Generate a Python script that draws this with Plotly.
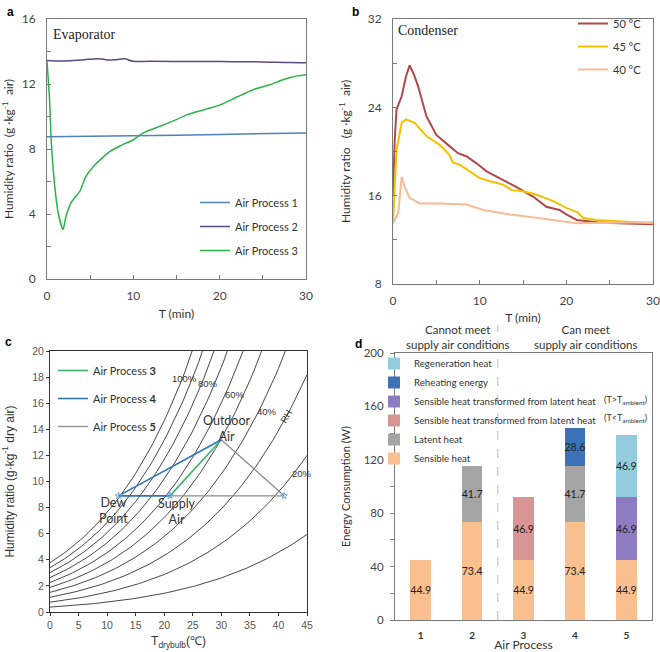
import numpy as np
import plotly.graph_objects as go

# ---------------- Panel a data (Evaporator) ----------------
a_t1 = [0, 5, 10, 15, 20, 25, 30]
a_ap1 = [8.75, 8.77, 8.8, 8.85, 8.9, 8.93, 8.98]
a_t2 = [0, 2, 4, 6, 7, 8, 9, 10, 12, 15, 20, 25, 28, 30]
a_ap2 = [13.45, 13.42, 13.48, 13.56, 13.48, 13.5, 13.55, 13.4, 13.4, 13.38, 13.38, 13.36, 13.32, 13.31]
a_t3 = [0, 0.3, 0.5, 0.9, 1.3, 1.86, 2.2, 2.8, 3.8, 4.5, 5.5, 7.3, 8.5, 10, 11.1, 13.1, 14.5, 16.2, 18.1, 20, 22, 23.9, 25.8, 27, 28.2, 29, 30]
a_ap3 = [13.4, 11.0, 8.4, 5.7, 4.06, 3.04, 3.86, 4.7, 5.4, 6.3, 7.0, 7.85, 8.2, 8.57, 8.98, 9.4, 9.7, 10.1, 10.4, 10.7, 11.2, 11.65, 11.95, 12.2, 12.4, 12.5, 12.57]

# ---------------- Panel b data (Condenser) ----------------
b_t50 = [0, 0.2, 0.4, 1.0, 1.5, 1.92, 2.4, 2.9, 3.85, 5.0, 6.35, 7.5, 8.5, 9.6, 10.8, 12.3, 14.2, 16.2, 17.7, 19.2, 20.0, 21.2, 23.5, 26, 30]
b_h50 = [15.9, 21.0, 23.8, 25.0, 26.8, 27.8, 27.0, 25.9, 23.2, 21.5, 20.6, 19.85, 19.55, 18.95, 18.2, 17.6, 16.8, 15.9, 15.0, 14.7, 14.3, 13.8, 13.6, 13.5, 13.4]
b_t45 = [0, 0.2, 0.4, 1.0, 1.5, 2.5, 3.85, 5.4, 6.5, 6.9, 7.7, 8.85, 10, 11.2, 12.7, 13.7, 15, 16.5, 18.5, 20, 21.3, 21.9, 23.5, 25.4, 30]
b_h45 = [13.5, 16.5, 20.1, 22.6, 22.9, 22.6, 21.4, 20.6, 19.7, 19.0, 18.8, 18.2, 17.6, 17.3, 17.0, 16.5, 16.4, 16.1, 15.5, 14.9, 14.5, 14.0, 13.8, 13.7, 13.5]
b_t40 = [0, 0.6, 1.0, 1.35, 1.9, 3.1, 5.4, 8.5, 10.4, 13.5, 16.5, 19.6, 21.2, 30]
b_h40 = [13.5, 14.4, 17.7, 16.8, 15.8, 15.3, 15.3, 15.2, 14.7, 14.3, 14.0, 13.7, 13.5, 13.6]

# ---------------- Panel c data (psychrometric chart) ----------------
rh_levels = [1.0, 0.9, 0.8, 0.7, 0.6, 0.5, 0.4, 0.3, 0.2, 0.1]
t_grid = np.linspace(0, 45, 91)
p_atm = 101.325
dew_pt = (12, 8.9)
supply_pt = (21, 8.9)
outdoor_pt = (30, 13.2)
reheat_pt = (41, 8.9)

# ---------------- Panel d data (energy) ----------------
d_cats = [1, 2, 3, 4, 5]
d_series = [
    ("Sensible heat", [44.9, 73.4, 44.9, 73.4, 44.9], "#F9BF8F"),
    ("Latent heat", [0, 41.7, 0, 41.7, 0], "#A5A5A5"),
    ("Sensible heat transformed from latent heat", [0, 0, 46.9, 0, 0], "#D99594"),
    ("Sensible heat transformed from latent heat", [0, 0, 0, 0, 46.9], "#8E7CC3"),
    ("Reheating energy", [0, 0, 0, 28.6, 0], "#3D72B8"),
    ("Regeneration heat", [0, 0, 0, 0, 46.9], "#93CDDD"),
]

W, H = 660, 652
def px_x(p): return p / W
def px_y(p): return 1 - p / H

fig = go.Figure()
FONT = "Lato"
GRAY = "#7a7a7a"

# Panel a
fig.add_trace(go.Scatter(x=a_t1, y=a_ap1, mode="lines", name="Air Process 1", line=dict(color="#4F81BD", width=1.5),
                         xaxis="x", yaxis="y", legend="legend", legendgroup="a1"))
fig.add_trace(go.Scatter(x=a_t2, y=a_ap2, mode="lines", name="Air Process 2", line=dict(color="#5B4A7E", width=1.5, shape="spline"),
                         xaxis="x", yaxis="y", legend="legend", legendgroup="a2"))
fig.add_trace(go.Scatter(x=a_t3, y=a_ap3, mode="lines", name="Air Process 3", line=dict(color="#2DB24A", width=1.5, shape="spline", smoothing=0.6),
                         xaxis="x", yaxis="y", legend="legend", legendgroup="a3"))

# Panel b
fig.add_trace(go.Scatter(x=b_t50, y=b_h50, mode="lines", name="50 °C", line=dict(color="#B0494A", width=2),
                         xaxis="x2", yaxis="y2", legend="legend2", legendgroup="b50"))
fig.add_trace(go.Scatter(x=b_t45, y=b_h45, mode="lines", name="45 °C", line=dict(color="#F5C000", width=2),
                         xaxis="x2", yaxis="y2", legend="legend2", legendgroup="b45"))
fig.add_trace(go.Scatter(x=b_t40, y=b_h40, mode="lines", name="40 °C", line=dict(color="#F7BC94", width=2),
                         xaxis="x2", yaxis="y2", legend="legend2", legendgroup="b40"))

# Panel c: RH curves
for rh in rh_levels:
    ps = 0.61094 * np.exp(17.625 * t_grid / (t_grid + 243.04))
    w = 622 * rh * ps / (p_atm - rh * ps)
    fig.add_trace(go.Scatter(x=t_grid, y=w, mode="lines", line=dict(color="#333333", width=0.9),
                             showlegend=False, hoverinfo="skip", xaxis="x3", yaxis="y3"))

fig.add_trace(go.Scatter(x=[supply_pt[0], outdoor_pt[0]], y=[supply_pt[1], outdoor_pt[1]], mode="lines",
                         name="Air Process <b>3</b>", line=dict(color="#3DB36B", width=1.6),
                         xaxis="x3", yaxis="y3", legend="legend3", legendgroup="c3"))
fig.add_trace(go.Scatter(x=[supply_pt[0], dew_pt[0], outdoor_pt[0]], y=[supply_pt[1], dew_pt[1], outdoor_pt[1]], mode="lines",
                         name="Air Process <b>4</b>", line=dict(color="#2E75B6", width=1.6),
                         xaxis="x3", yaxis="y3", legend="legend3", legendgroup="c4"))
fig.add_trace(go.Scatter(x=[outdoor_pt[0], reheat_pt[0], supply_pt[0]], y=[outdoor_pt[1], reheat_pt[1], supply_pt[1]], mode="lines",
                         name="Air Process <b>5</b>", line=dict(color="#8C8C8C", width=1.3),
                         xaxis="x3", yaxis="y3", legend="legend3", legendgroup="c5"))
fig.add_trace(go.Scatter(x=[dew_pt[0], supply_pt[0], reheat_pt[0]], y=[dew_pt[1], supply_pt[1], reheat_pt[1]], mode="markers",
                         marker=dict(symbol="star-open", size=5, color="#6FA8DC"), showlegend=False,
                         xaxis="x3", yaxis="y3"))

# Panel d
for name, vals, col in d_series:
    txt = [f"{v:.1f}" if v > 0 else " " for v in vals]
    fig.add_trace(go.Bar(x=d_cats, y=vals, name=name, marker=dict(color=col, line=dict(width=0)),
                         text=txt, textposition="inside", insidetextanchor="middle", textangle=0,
                         constraintext="none", cliponaxis=False,
                         textfont=dict(size=10.5, color="#222", family=FONT), width=0.4,
                         xaxis="x4", yaxis="y4", legend="legend4"))

def ax(**kw):
    d = dict(showgrid=False, zeroline=False, showline=True, mirror=True, linecolor=GRAY, linewidth=1,
             tickcolor=GRAY, ticklen=4)
    d.update(kw)
    return d

tf_ab = dict(size=12, color="#444", family=FONT)
tt_ab = dict(size=12, color="#333", family=FONT)

fig.update_layout(
    width=W, height=H, margin=dict(l=0, r=0, t=0, b=0, autoexpand=False), plot_bgcolor="white", paper_bgcolor="white",
    barmode="stack", showlegend=True,
    font=dict(family=FONT, color="#333"),
    xaxis=ax(domain=[px_x(47), px_x(306)], range=[0, 30], dtick=10, anchor="y", ticks="inside",
             minor=dict(dtick=5, ticks="inside", ticklen=4, tickcolor=GRAY), tickfont=tf_ab, ticklabelstandoff=6,
             title=dict(text="T (min)", font=tt_ab, standoff=7)),
    yaxis=ax(domain=[px_y(279), px_y(19)], range=[0, 16], dtick=4, anchor="x", ticks="inside",
             minor=dict(dtick=2, ticks="inside", ticklen=4, tickcolor=GRAY), tickfont=tf_ab, ticklabelstandoff=8,
             title=dict(text="Humidity ratio  (g ·kg<sup>-1</sup>  air)", font=tt_ab, standoff=12)),
    xaxis2=ax(domain=[px_x(393), px_x(653)], range=[0, 30], dtick=10, anchor="y2", ticks="inside",
              minor=dict(dtick=5, ticks="inside", ticklen=4, tickcolor=GRAY), tickfont=tf_ab, ticklabelstandoff=6,
              title=dict(text="T (min)", font=tt_ab, standoff=6)),
    yaxis2=ax(domain=[px_y(284), px_y(19)], range=[8, 32], dtick=8, anchor="x2", ticks="inside",
              minor=dict(dtick=4, ticks="inside", ticklen=4, tickcolor=GRAY), tickfont=tf_ab, ticklabelstandoff=8,
              title=dict(text="Humidity ratio   (g ·kg<sup>-1</sup>  air)", font=tt_ab, standoff=14)),
    xaxis3=ax(domain=[px_x(50), px_x(307)], range=[0, 45], dtick=5, anchor="y3", linecolor="#333", tickcolor="#333",
              ticks="outside", ticklen=3, tickfont=dict(size=10.5, color="#555", family="Liberation Sans"),
              title=dict(text="T<sub>drybulb</sub>(℃)", font=dict(size=12, color="#333", family="Liberation Sans"), standoff=7)),
    yaxis3=ax(domain=[px_y(612), px_y(351)], range=[0, 20], dtick=2, anchor="x3", linecolor="#333", tickcolor="#333",
              ticks="outside", ticklen=3, tickfont=dict(size=10.5, color="#555", family="Liberation Sans"),
              title=dict(text="Humidity ratio (g·kg<sup>-1</sup> dry air)", font=dict(size=12, color="#333", family="Liberation Sans"), standoff=15)),
    xaxis4=ax(domain=[px_x(395), px_x(652)], range=[0.5, 5.5], tickvals=d_cats, ticktext=[f"<b>{c}</b>" for c in d_cats],
              anchor="y4", ticks="", tickfont=dict(size=10, color="#333", family=FONT), ticklabelstandoff=6,
              title=dict(text="Air Process", font=dict(size=12, color="#333", family=FONT), standoff=1)),
    yaxis4=ax(domain=[px_y(620), px_y(353)], range=[0, 200], dtick=40, anchor="x4", ticks="outside",
              minor=dict(dtick=20, ticks="outside", ticklen=4, tickcolor=GRAY),
              tickfont=dict(size=11.5, color="#444", family=FONT), ticklabelstandoff=4,
              title=dict(text="Energy Consumption (W)", font=dict(size=11, color="#333", family=FONT), standoff=10)),
    legend=dict(x=px_x(195), y=px_y(188), xanchor="left", yanchor="top", bgcolor="rgba(0,0,0,0)",
                font=dict(size=11, color="#333", family=FONT), tracegroupgap=5),
    legend2=dict(x=px_x(573), y=px_y(9), xanchor="left", yanchor="top", bgcolor="rgba(0,0,0,0)",
                 font=dict(size=11, color="#333", family=FONT), tracegroupgap=4),
    legend3=dict(x=px_x(53), y=px_y(356), xanchor="left", yanchor="top", bgcolor="rgba(0,0,0,0)",
                 font=dict(size=11, color="#333", family=FONT), tracegroupgap=9),
    legend4=dict(x=px_x(374), y=px_y(349), xanchor="left", yanchor="top", bgcolor="rgba(0,0,0,0)",
                 font=dict(size=9.7, color="#333", family=FONT), traceorder="reversed", itemwidth=30,
                 tracegroupgap=0),
)

ann = []
def A(x, y, text, **kw):
    d = dict(x=x, y=y, text=text, showarrow=False, xanchor="center", yanchor="middle")
    d.update(kw)
    ann.append(d)

# panel letters
letter_font = dict(size=12, color="#000", family="Liberation Sans")
A(px_x(5), px_y(3), "<b>a</b>", xref="paper", yref="paper", xanchor="left", yanchor="top", font=letter_font)
A(px_x(350), px_y(3), "<b>b</b>", xref="paper", yref="paper", xanchor="left", yanchor="top", font=letter_font)
A(px_x(3), px_y(333), "<b>c</b>", xref="paper", yref="paper", xanchor="left", yanchor="top", font=letter_font)
A(px_x(353), px_y(335), "<b>d</b>", xref="paper", yref="paper", xanchor="left", yanchor="top", font=letter_font)

# titles
A(px_x(51), px_y(25), "Evaporator", xref="paper", yref="paper", xanchor="left", yanchor="top", font=dict(size=14, color="#222", family="Liberation Serif"))
A(px_x(396), px_y(21), "Condenser", xref="paper", yref="paper", xanchor="left", yanchor="top", font=dict(size=14, color="#222", family="Liberation Serif"))

# panel c labels
lab_font = dict(size=9.5, color="#333", family="Liberation Sans")
A(23.6, 17.9, "100%", xref="x3", yref="y3", font=lab_font)
A(27.6, 17.5, "80%", xref="x3", yref="y3", font=lab_font)
A(32.4, 16.7, "60%", xref="x3", yref="y3", font=lab_font)
A(38.0, 15.4, "40%", xref="x3", yref="y3", font=lab_font)
A(41.3, 15.0, "RH", xref="x3", yref="y3", font=lab_font, textangle=-60)
A(44.2, 10.6, "20%", xref="x3", yref="y3", font=lab_font)
big = dict(size=12.5, color="#333", family=FONT)
A(31.0, 14.1, "Outdoor<br>Air", xref="x3", yref="y3", font=big)
A(11.2, 7.8, "Dew<br>Point", xref="x3", yref="y3", font=big)
A(22.2, 7.7, "Supply<br>Air", xref="x3", yref="y3", font=big)

# panel d texts
hdr = dict(size=11.5, color="#333", family=FONT)
A(px_x(457), px_y(337), "Cannot meet<br>supply air conditions", xref="paper", yref="paper", font=hdr)
A(px_x(585), px_y(337), "Can meet<br>supply air conditions", xref="paper", yref="paper", font=hdr)
A(px_x(602), px_y(400), "(T>T<sub>ambient</sub>)", xref="paper", yref="paper", xanchor="left", font=dict(size=9, color="#333", family=FONT))
A(px_x(602), px_y(418), "(T<T<sub>ambient</sub>)", xref="paper", yref="paper", xanchor="left", font=dict(size=9, color="#333", family=FONT))

fig.update_layout(annotations=ann)

fig.add_shape(type="line", xref="x4", yref="paper", x0=2.5, x1=2.5, y0=px_y(620), y1=px_y(325),
              line=dict(color="#bbbbbb", width=1, dash="dash"))

# remove the default 8px page margin so the 660x652 figure fills the window exactly
fig.write_html("out.html", config={"displayModeBar": False},
               post_script="document.body.style.margin='0';document.body.style.overflow='hidden';")
